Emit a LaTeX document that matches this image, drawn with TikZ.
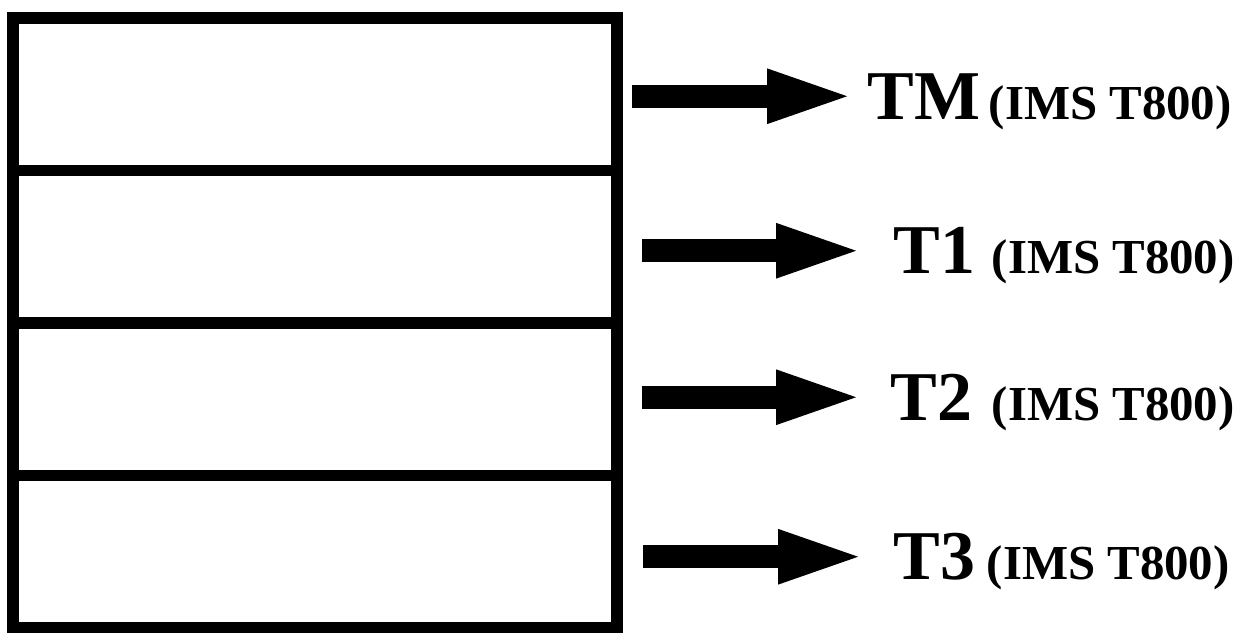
\documentclass[tikz,border=0pt]{standalone}
\usepackage{fontspec}
\setmainfont{Liberation Serif}
\usetikzlibrary{arrows.meta,positioning}

\begin{document}
\begin{tikzpicture}[
  cell/.style={rectangle,draw,line width=3.4pt,minimum width=6.04cm,
    minimum height=1.525cm,inner sep=0pt,outer sep=0pt},
  bigarrow/.style={line width=0.23cm,-{Triangle[length=0.91cm,width=0.47cm]}},
  biglbl/.style={inner sep=0pt,font=\bfseries\fontsize{19.9pt}{21pt}\selectfont},
  cpulbl/.style={inner sep=0pt,anchor=base west,
    font=\bfseries\fontsize{13.9pt}{15pt}\selectfont}]
    \useasboundingbox (0,0) rectangle (12.51,-6.33);
    % Transputer slots
    \node[cell] (rowM) at (3.15,-0.9425) {};
    \node[cell] (rowA) at (3.15,-2.4675) {};
    \node[cell] (rowB) at (3.15,-3.9925) {};
    \node[cell] (rowC) at (3.15,-5.5175) {};
    % Labels
    \node[biglbl,right=2.5cm of rowM,yshift=-0.02cm] (lblM) {TM};
    \node[biglbl,right=2.76cm of rowA,yshift=-0.04cm] (lblA) {T1};
    \node[biglbl,right=2.73cm of rowB,yshift=0.02cm] (lblB) {T2};
    \node[biglbl,right=2.76cm of rowC,yshift=-0.05cm] (lblC) {T3};
    \node[cpulbl] (cpuM) at ([xshift=0.07cm]lblM.base east) {(IMS T800)};
    \node[cpulbl] (cpuA) at ([xshift=0.15cm]lblA.base east) {(IMS T800)};
    \node[cpulbl] (cpuB) at ([xshift=0.18cm]lblB.base east) {(IMS T800)};
    \node[cpulbl] (cpuC) at ([xshift=0.10cm]lblC.base east) {(IMS T800)};
    % Arrows
    \draw[bigarrow] ([xshift=0.15cm]rowM.east |- lblM.west) -- ([xshift=-0.09cm]lblM.west);
    \draw[bigarrow] ([xshift=0.25cm]rowA.east |- lblA.west) -- ([xshift=-0.26cm]lblA.west);
    \draw[bigarrow] ([xshift=0.25cm]rowB.east |- lblB.west) -- ([xshift=-0.23cm]lblB.west);
    \draw[bigarrow] ([xshift=0.26cm]rowC.east |- lblC.west) -- ([xshift=-0.24cm]lblC.west);
\end{tikzpicture}
\end{document}
